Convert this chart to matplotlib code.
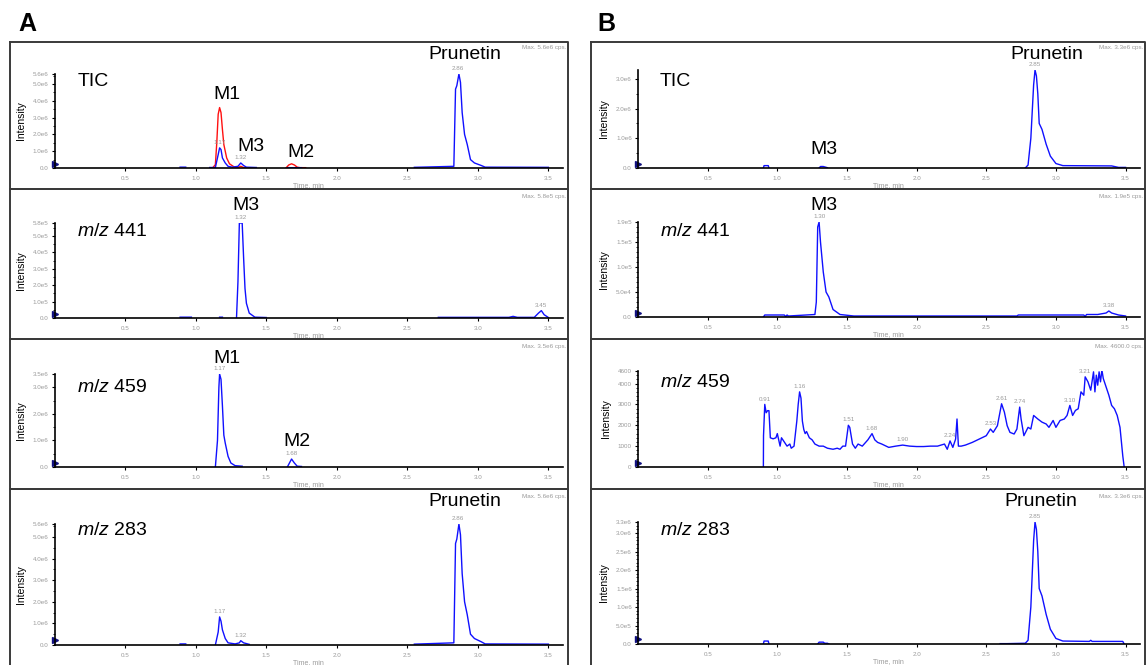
import matplotlib
matplotlib.use('Agg')
import matplotlib.pyplot as plt
from matplotlib.ticker import FixedLocator
from matplotlib.lines import Line2D

nan = float('nan')
W, H = 1147, 665
plt.rcParams['font.family'] = ['Liberation Sans', 'DejaVu Sans']
plt.rcParams['mathtext.fontset'] = 'custom'
plt.rcParams['mathtext.it'] = 'Liberation Sans:italic'
plt.rcParams['mathtext.rm'] = 'Liberation Sans'

# ---------------- data ----------------
x_ticks = [0.5, 1.0, 1.5, 2.0, 2.5, 3.0, 3.5]
x_ticklabels = ['0.5', '1.0', '1.5', '2.0', '2.5', '3.0', '3.5']

# A - TIC (blue)
a_tic_t = [0.89, 0.93, nan, 1.10, 1.14, 1.16, 1.17, 1.18, 1.19, 1.21, 1.23, 1.26, 1.30, 1.32, 1.34, 1.36, 1.43, nan,
           1.65, 1.75, nan, 2.55, 2.830, 2.842, 2.851, 2.866, 2.877, 2.889, 2.906, 2.925, 2.948, 2.976, 3.024, 3.052, 3.50]
a_tic_y = [0.05e6, 0.05e6, nan, 0.03e6, 0.03e6, 0.8e6, 1.2e6, 1.1e6, 0.6e6, 0.3e6, 0.1e6, 0.05e6, 0.1e6, 0.3e6, 0.15e6, 0.05e6, 0.03e6, nan,
           0.02e6, 0.02e6, nan, 0.04e6, 0.1e6, 4.7e6, 4.9e6, 5.6e6, 5.1e6, 3.3e6, 2.0e6, 1.4e6, 0.5e6, 0.3e6, 0.15e6, 0.05e6, 0.04e6]
# A - TIC (red, second sample)
a_tic_red_t = [1.12, 1.14, 1.15, 1.16, 1.17, 1.18, 1.19, 1.20, 1.22, 1.24, 1.27, 1.30, 1.32, 1.34, 1.36, nan,
               1.64, 1.66, 1.68, 1.70, 1.72, 1.74, 1.78]
a_tic_red_y = [0.0, 0.2e6, 1.5e6, 3.2e6, 3.6e6, 3.3e6, 2.3e6, 1.4e6, 0.6e6, 0.25e6, 0.08e6, 0.03e6, 0.1e6, 0.03e6, 0.0, nan,
               0.0, 0.18e6, 0.25e6, 0.18e6, 0.05e6, 0.02e6, 0.02e6]

# A - m/z 441
a441_t = [0.89, 0.97, nan, 1.17, 1.19, nan, 1.29, 1.30, 1.31, 1.33, 1.34, 1.35, 1.36, 1.38, 1.42, 1.50, nan,
          2.72, 3.22, 3.25, 3.28, 3.40, 3.43, 3.45, 3.47, 3.50]
a441_y = [0.05e5, 0.05e5, nan, 0.05e5, 0.05e5, nan, 0.05e5, 2.2e5, 5.8e5, 5.8e5, 3.7e5, 1.8e5, 0.9e5, 0.3e5, 0.05e5, 0.03e5, nan,
          0.04e5, 0.04e5, 0.1e5, 0.04e5, 0.04e5, 0.3e5, 0.45e5, 0.2e5, 0.03e5]

# A - m/z 459
a459_t = [1.14, 1.155, 1.16, 1.165, 1.17, 1.18, 1.19, 1.20, 1.21, 1.23, 1.25, 1.28, 1.33, nan,
          1.65, 1.67, 1.68, 1.70, 1.72, 1.75]
a459_y = [0.0, 1.0e6, 2.0e6, 3.0e6, 3.5e6, 3.3e6, 2.3e6, 1.2e6, 0.9e6, 0.4e6, 0.15e6, 0.05e6, 0.03e6, nan,
          0.0, 0.2e6, 0.3e6, 0.15e6, 0.03e6, 0.02e6]

# A - m/z 283
a283_t = [0.89, 0.93, nan, 1.14, 1.16, 1.17, 1.18, 1.19, 1.21, 1.23, 1.28, 1.31, 1.32, 1.34, 1.38, nan,
          2.55, 2.830, 2.842, 2.851, 2.866, 2.877, 2.889, 2.906, 2.925, 2.948, 2.976, 3.024, 3.052, 3.50]
a283_y = [0.05e6, 0.05e6, nan, 0.0, 0.6e6, 1.3e6, 1.1e6, 0.7e6, 0.3e6, 0.1e6, 0.05e6, 0.1e6, 0.2e6, 0.1e6, 0.03e6, nan,
          0.04e6, 0.1e6, 4.7e6, 4.9e6, 5.6e6, 5.1e6, 3.3e6, 2.0e6, 1.4e6, 0.5e6, 0.3e6, 0.15e6, 0.05e6, 0.04e6]

# B - TIC
b_tic_t = [0.90, 0.905, 0.935, 0.94, nan, 1.30, 1.31, 1.33, 1.36, nan,
           2.78, 2.80, 2.82, 2.84, 2.85, 2.86, 2.87, 2.88, 2.90, 2.93, 2.96, 3.00, 3.05, 3.40, 3.45, 3.50]
b_tic_y = [0.0, 0.08e6, 0.08e6, 0.0, nan, 0.0, 0.05e6, 0.05e6, 0.01e6, nan,
           0.0, 0.1e6, 1.0e6, 2.8e6, 3.3e6, 3.1e6, 2.5e6, 1.5e6, 1.3e6, 0.8e6, 0.4e6, 0.15e6, 0.08e6, 0.07e6, 0.02e6, 0.02e6]

# B - m/z 441
b441_t = [0.90, 0.91, 1.05, 1.06, 1.07, 1.08, 1.27, 1.28, 1.29, 1.30, 1.31, 1.32, 1.33, 1.35, 1.37, 1.40, 1.45, 1.55,
          2.72, 2.73, 3.20, 3.21, 3.22, 3.30, 3.36, 3.38, 3.40, 3.45, 3.50]
b441_y = [0.0, 0.04e5, 0.04e5, 0.01e5, 0.04e5, 0.02e5, 0.05e5, 0.3e5, 1.8e5, 1.9e5, 1.5e5, 1.2e5, 0.9e5, 0.5e5, 0.4e5, 0.15e5, 0.05e5, 0.02e5,
          0.02e5, 0.04e5, 0.04e5, 0.01e5, 0.05e5, 0.05e5, 0.08e5, 0.12e5, 0.08e5, 0.04e5, 0.02e5]

# B - m/z 459
b459_t = [0.90, 0.901, 0.91, 0.92, 0.93, 0.94, 0.95, 0.97, 0.99, 1.00, 1.02, 1.03, 1.05, 1.07, 1.09, 1.10, 1.12,
          1.14, 1.15, 1.16, 1.17, 1.18, 1.19, 1.20, 1.21, 1.23, 1.25, 1.27, 1.30, 1.33, 1.36, 1.40, 1.43, 1.45,
          1.47, 1.49, 1.51, 1.52, 1.54, 1.56, 1.58, 1.61, 1.65, 1.68, 1.70, 1.72, 1.75, 1.80, 1.85, 1.90, 1.95,
          2.00, 2.05, 2.10, 2.15, 2.20, 2.22, 2.24, 2.26, 2.28, 2.29, 2.30, 2.32, 2.35, 2.40, 2.45, 2.50, 2.53,
          2.55, 2.58, 2.61, 2.63, 2.65, 2.67, 2.70, 2.72, 2.74, 2.75, 2.77, 2.80, 2.82, 2.84, 2.87, 2.90, 2.93,
          2.95, 2.98, 3.00, 3.03, 3.06, 3.08, 3.10, 3.12, 3.14, 3.16, 3.18, 3.20, 3.21, 3.23, 3.25, 3.27, 3.28,
          3.29, 3.30, 3.31, 3.32, 3.33, 3.34, 3.36, 3.38, 3.40, 3.42, 3.44, 3.46, 3.48, 3.49]
b459_y = [0, 1500, 3000, 2600, 2700, 2700, 1400, 1350, 1400, 1600, 1000, 1400, 1200, 1000, 1100, 900, 1000,
          2200, 3000, 3600, 3300, 2200, 1800, 1600, 1700, 1400, 1300, 1100, 1000, 1000, 900, 850, 900, 850,
          1000, 1000, 2000, 1900, 1100, 900, 1100, 1000, 1300, 1600, 1300, 1180, 1100, 940, 1000, 1050, 1000,
          980, 980, 1000, 1000, 1100, 850, 1250, 940, 1340, 2300, 1000, 1000, 1050, 1180, 1340, 1500, 1820,
          1660, 1980, 3030, 2630, 1980, 1660, 1580, 1820, 2870, 2300, 1500, 1900, 1820, 2470, 2300, 2150, 2060,
          1900, 2230, 1900, 2230, 2300, 2470, 2950, 2470, 2710, 2790, 3600, 3440, 4320, 4080, 3680, 4560, 3600,
          4400, 3920, 4560, 4080, 4650, 4240, 3840, 3440, 2950, 2790, 2470, 1900, 530, 0]

# B - m/z 283
b283_t = [0.90, 0.905, 0.935, 0.94, nan, 1.29, 1.30, 1.33, 1.34, 1.36, 1.37, nan,
          2.60, 2.65, 2.78, 2.80, 2.82, 2.84, 2.85, 2.86, 2.87, 2.88, 2.90, 2.93, 2.96, 3.00, 3.05, 3.24, 3.25, 3.26, 3.48, 3.49]
b283_y = [0.0, 0.08e6, 0.08e6, 0.0, nan, 0.0, 0.05e6, 0.05e6, 0.02e6, 0.02e6, 0.0, nan,
          0.01e6, 0.01e6, 0.02e6, 0.1e6, 1.0e6, 2.8e6, 3.3e6, 3.1e6, 2.5e6, 1.5e6, 1.3e6, 0.8e6, 0.4e6, 0.15e6, 0.08e6, 0.07e6, 0.1e6, 0.07e6, 0.07e6, 0.0]

# y-axis maxima, ticks and labels
a1_ymax, a1_yticks, a1_ylabels = 5.6e6, [0, 1e6, 2e6, 3e6, 4e6, 5e6, 5.6e6], ['0.0', '1.0e6', '2.0e6', '3.0e6', '4.0e6', '5.0e6', '5.6e6']
a2_ymax, a2_yticks, a2_ylabels = 5.8e5, [0, 1e5, 2e5, 3e5, 4e5, 5e5, 5.8e5], ['0.0', '1.0e5', '2.0e5', '3.0e5', '4.0e5', '5.0e5', '5.8e5']
a3_ymax, a3_yticks, a3_ylabels = 3.5e6, [0, 1e6, 2e6, 3e6, 3.5e6], ['0.0', '1.0e6', '2.0e6', '3.0e6', '3.5e6']
a4_ymax, a4_yticks, a4_ylabels = 5.6e6, [0, 1e6, 2e6, 3e6, 4e6, 5e6, 5.6e6], ['0.0', '1.0e6', '2.0e6', '3.0e6', '4.0e6', '5.0e6', '5.6e6']
b1_ymax, b1_yticks, b1_ylabels = 3.3e6, [0, 1e6, 2e6, 3e6], ['0.0', '1.0e6', '2.0e6', '3.0e6']
b2_ymax, b2_yticks, b2_ylabels = 1.9e5, [0, 5e4, 1e5, 1.5e5, 1.9e5], ['0.0', '5.0e4', '1.0e5', '1.5e5', '1.9e5']
b3_ymax, b3_yticks, b3_ylabels = 4600, [0, 1000, 2000, 3000, 4000, 4600], ['0', '1000', '2000', '3000', '4000', '4600']
b4_ymax, b4_yticks, b4_ylabels = 3.3e6, [0, 5e5, 1e6, 1.5e6, 2e6, 2.5e6, 3e6, 3.3e6], ['0.0', '5.0e5', '1.0e6', '1.5e6', '2.0e6', '2.5e6', '3.0e6', '3.3e6']

max_labels = {'a1': 'Max. 5.6e6 cps.', 'a2': 'Max. 5.8e5 cps.', 'a3': 'Max. 3.5e6 cps.', 'a4': 'Max. 5.6e6 cps.',
              'b1': 'Max. 3.3e6 cps.', 'b2': 'Max. 1.9e5 cps.', 'b3': 'Max. 4600.0 cps.', 'b4': 'Max. 3.3e6 cps.'}

# peak retention-time labels (time, height, text)
a1_peaks = [(1.17, 1.2e6, '1.17'), (1.32, 0.3e6, '1.32'), (2.86, 5.6e6, '2.86')]
a2_peaks = [(1.32, 5.8e5, '1.32'), (3.45, 0.45e5, '3.45')]
a3_peaks = [(1.17, 3.5e6, '1.17'), (1.68, 0.3e6, '1.68')]
a4_peaks = [(1.17, 1.3e6, '1.17'), (1.32, 0.2e6, '1.32'), (2.86, 5.6e6, '2.86')]
b1_peaks = [(2.85, 3.3e6, '2.85')]
b2_peaks = [(1.30, 1.9e5, '1.30'), (3.38, 0.12e5, '3.38')]
b3_peaks = [(0.91, 3000, '0.91'), (1.16, 3600, '1.16'), (1.51, 2000, '1.51'), (1.68, 1600, '1.68'), (1.90, 1050, '1.90'),
            (2.24, 1250, '2.24'), (2.53, 1820, '2.53'), (2.61, 3030, '2.61'), (2.74, 2870, '2.74'), (3.10, 2950, '3.10'),
            (3.21, 4320, '3.21')]
b4_peaks = [(2.85, 3.3e6, '2.85')]

# ---------------- layout ----------------
fig = plt.figure(figsize=(W / 100, H / 100), dpi=100)
BLUE = '#1010ff'
RED = '#ff1010'
GRAY = '#9a9a9a'


def fx(x):
    return x / W


def fy(y):
    return 1 - y / H


def text_px(x, y, s, **kw):
    fig.text(fx(x), fy(y), s, **kw)


# panel frames
for (x0, x1) in [(10, 568), (591, 1145)]:
    for (y0, y1) in [(42, 189), (189, 339), (339, 489), (489, 668)]:
        fig.add_artist(Line2D([fx(x0), fx(x1), fx(x1), fx(x0), fx(x0)], [fy(y0), fy(y0), fy(y1), fy(y1), fy(y0)],
                              color='#3a3a3a', lw=1.4, transform=fig.transFigure))

text_px(18, 31, 'A', fontsize=18, fontweight='bold')
text_px(597, 31, 'B', fontsize=18, fontweight='bold')


def panel(x0, x1, ybot, ytop, traces, ymax, yticks, ylabels, peaks, yminor):
    ax = fig.add_axes([fx(x0), fy(ybot), fx(x1) - fx(x0), (ybot - ytop) / H])
    for t, y, c in traces:
        ax.plot(t, y, color=c, lw=1.0)
    ax.set_xlim(0, 3.6)
    ax.set_ylim(0, ymax)
    for s in ['top', 'right']:
        ax.spines[s].set_visible(False)
    for s in ['left', 'bottom']:
        ax.spines[s].set_linewidth(1.2)
    ax.patch.set_alpha(0)
    ax.xaxis.set_major_locator(FixedLocator(x_ticks))
    ax.set_xticklabels(x_ticklabels)
    ax.yaxis.set_major_locator(FixedLocator(yticks))
    ax.set_yticklabels(ylabels)
    ax.yaxis.set_minor_locator(FixedLocator(yminor))
    ax.tick_params(axis='both', which='major', length=2.5, width=0.8, labelsize=4.5, labelcolor=GRAY, pad=2)
    ax.tick_params(axis='both', which='minor', length=1.3, width=0.6)
    ax.tick_params(axis='x', pad=3)
    ax.set_ylabel('Intensity', fontsize=7.5, labelpad=5)
    ax.set_xlabel('Time, min', fontsize=5, color=GRAY, labelpad=1)
    ax.plot([0], [ymax * 0.04], marker='>', color='#101080', markersize=4, clip_on=False)
    for t, h, s in peaks:
        ax.annotate(s, (t, h), xytext=(0, 2), textcoords='offset points', ha='center', va='bottom',
                    fontsize=4.5, color=GRAY)
    return ax


def minors(step, ymax):
    out = []
    v = 0.0
    while v <= ymax + 1e-9:
        out.append(v)
        v += step
    return out


A_X0, A_X1 = 54.5, 562.5
B_X0, B_X1 = 638, 1139.5

panel(A_X0, A_X1, 168, 74, [(a_tic_red_t, a_tic_red_y, RED), (a_tic_t, a_tic_y, BLUE)], a1_ymax, a1_yticks, a1_ylabels,
      a1_peaks, minors(0.5e6, a1_ymax))
panel(A_X0, A_X1, 318, 223, [(a441_t, a441_y, BLUE)], a2_ymax, a2_yticks, a2_ylabels, a2_peaks,
      minors(0.5e5, a2_ymax))
panel(A_X0, A_X1, 467, 374, [(a459_t, a459_y, BLUE)], a3_ymax, a3_yticks, a3_ylabels, a3_peaks,
      minors(0.5e6, a3_ymax))
panel(A_X0, A_X1, 645, 524, [(a283_t, a283_y, BLUE)], a4_ymax, a4_yticks, a4_ylabels, a4_peaks,
      minors(0.5e6, a4_ymax))
panel(B_X0, B_X1, 168, 70, [(b_tic_t, b_tic_y, BLUE)], b1_ymax, b1_yticks, b1_ylabels, b1_peaks,
      minors(0.5e6, b1_ymax))
panel(B_X0, B_X1, 317, 222, [(b441_t, b441_y, BLUE)], b2_ymax, b2_yticks, b2_ylabels, b2_peaks,
      minors(1e4, b2_ymax))
panel(B_X0, B_X1, 467, 371, [(b459_t, b459_y, BLUE)], b3_ymax, b3_yticks, b3_ylabels, b3_peaks,
      minors(200, b3_ymax))
panel(B_X0, B_X1, 644, 522, [(b283_t, b283_y, BLUE)], b4_ymax, b4_yticks, b4_ylabels, b4_peaks,
      minors(1e5, b4_ymax))

# Max labels (top-right of each panel)
for key, (x, y) in {'a1': (566, 49), 'a2': (566, 198), 'a3': (566, 348), 'a4': (566, 498),
                    'b1': (1143, 49), 'b2': (1143, 198), 'b3': (1143, 348), 'b4': (1143, 498)}.items():
    text_px(x, y, max_labels[key], fontsize=4.5, color=GRAY, ha='right')

BIG = 14
# A annotations
text_px(78, 86, 'TIC', fontsize=BIG)
text_px(213, 99, 'M1', fontsize=BIG)
text_px(237, 151, 'M3', fontsize=BIG)
text_px(287, 157, 'M2', fontsize=BIG)
text_px(428, 59, 'Prunetin', fontsize=BIG)
text_px(77, 236, r'$m/z$ 441', fontsize=BIG)
text_px(232, 210, 'M3', fontsize=BIG)
text_px(77, 392, r'$m/z$ 459', fontsize=BIG)
text_px(213, 363, 'M1', fontsize=BIG)
text_px(283, 446, 'M2', fontsize=BIG)
text_px(77, 535, r'$m/z$ 283', fontsize=BIG)
text_px(428, 506, 'Prunetin', fontsize=BIG)
# B annotations
text_px(660, 86, 'TIC', fontsize=BIG)
text_px(810, 154, 'M3', fontsize=BIG)
text_px(1010, 59, 'Prunetin', fontsize=BIG)
text_px(660, 236, r'$m/z$ 441', fontsize=BIG)
text_px(810, 210, 'M3', fontsize=BIG)
text_px(660, 387, r'$m/z$ 459', fontsize=BIG)
text_px(660, 535, r'$m/z$ 283', fontsize=BIG)
text_px(1004, 506, 'Prunetin', fontsize=BIG)

fig.savefig('out.png', dpi=100, facecolor='white')
